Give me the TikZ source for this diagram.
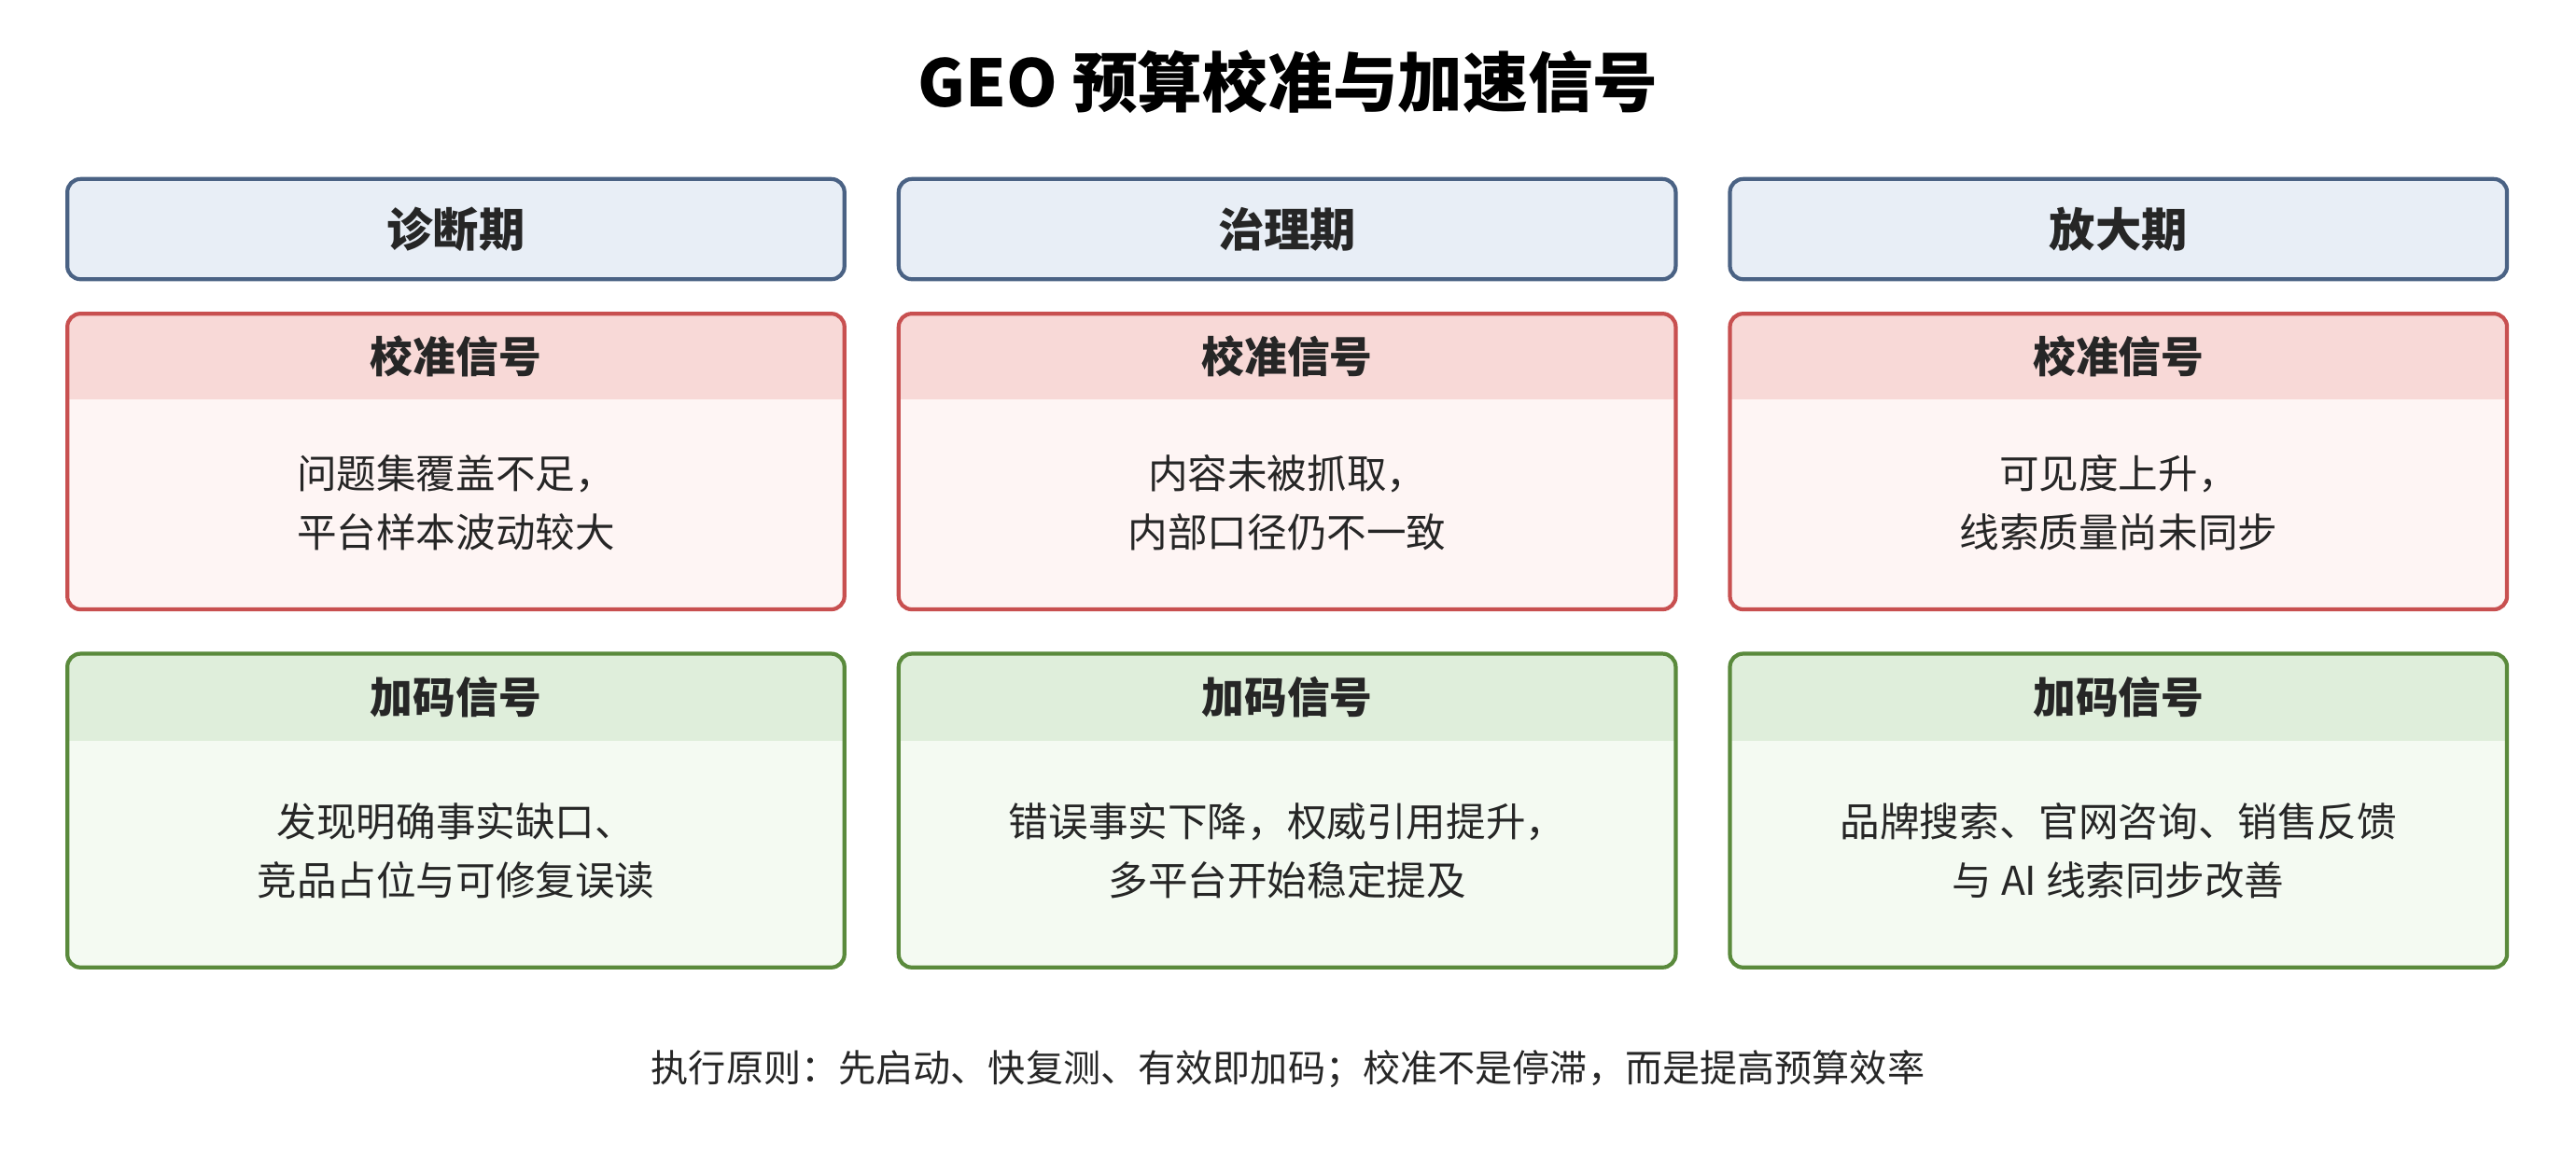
\documentclass[tikz,border=0pt]{standalone}
\usepackage{fontspec}
\setmainfont{Noto Sans CJK SC}
\begin{document}
\begin{tikzpicture}[x=0.5pt,y=-0.5pt,
  hd/.style={font=\bfseries\fontsize{14}{16}\selectfont, text=black!85},
  ch/.style={font=\bfseries\fontsize{13}{16}\selectfont, text=black!85},
  bd/.style={font=\fontsize{12.1}{18}\selectfont, align=center, text=black!85}]
\definecolor{bB}{HTML}{4A6284}\definecolor{bF}{HTML}{E8EEF6}
\definecolor{rB}{HTML}{C85050}\definecolor{rH}{HTML}{F8D9D7}\definecolor{rF}{HTML}{FEF5F4}
\definecolor{gB}{HTML}{5A8A3C}\definecolor{gH}{HTML}{DFEEDB}\definecolor{gF}{HTML}{F4FAF2}
\useasboundingbox[fill=white] (0,0) rectangle (1568,705);
\node[font=\bfseries\fontsize{19.8}{24}\selectfont] (title) at (784,50) {GEO 预算校准与加速信号};
\newcommand{\mycard}[7]{%
  \fill[#7,rounded corners=4pt] (#1,#2) rectangle ++(473,#3-#2);
  \begin{scope}
    \clip[rounded corners=4pt] (#1,#2) rectangle ++(473,#3-#2);
    \fill[#6] (#1,#2) rectangle ++(473,#4-#2);
  \end{scope}
  \draw[#5,line width=1.2pt,rounded corners=4pt] (#1,#2) rectangle ++(473,#3-#2);
}
\foreach \x/\p/\ra/\rb/\ga/\gb [count=\i] in {
  41/诊断期/问题集覆盖不足，/平台样本波动较大/发现明确事实缺口、/竞品占位与可修复误读,
  547/治理期/内容未被抓取，/内部口径仍不一致/错误事实下降，权威引用提升，/多平台开始稳定提及,
  1053/放大期/可见度上升，/线索质量尚未同步/品牌搜索、官网咨询、销售反馈/与 AI 线索同步改善}{
  \draw[bB,fill=bF,line width=1.2pt,rounded corners=4pt] (\x,109) rectangle ++(473,61);
  \node[hd] (p\i) at (\x+236.5,139.5) {\p};
  \mycard{\x}{191}{371}{243}{rB}{rH}{rF}
  \node[ch] (rh\i) at (\x+236.5,217) {校准信号};
  \node[bd] (rt\i) at (\x+236.5,306) {\ra\\\rb};
  \mycard{\x}{398}{589}{451}{gB}{gH}{gF}
  \node[ch] (gh\i) at (\x+236.5,424.5) {加码信号};
  \node[bd] (gt\i) at (\x+236.5,518) {\ga\\\gb};
}
\node[font=\fontsize{11.4}{14}\selectfont, text=black!85] (foot) at (784,651) {执行原则：先启动、快复测、有效即加码；校准不是停滞，而是提高预算效率};
\end{tikzpicture}
\end{document}
